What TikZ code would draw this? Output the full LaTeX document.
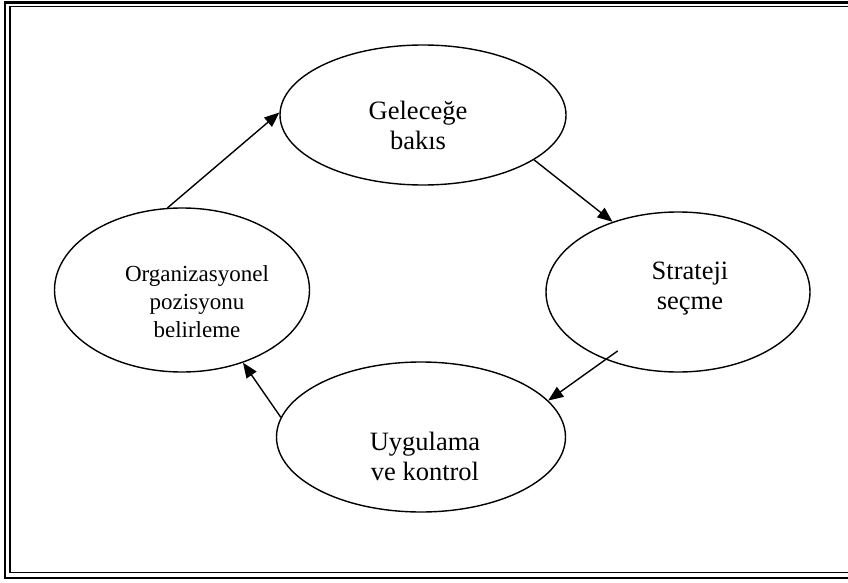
\documentclass[tikz,border=0pt]{standalone}
\usepackage{fontspec}
\setmainfont{Liberation Serif}
\usetikzlibrary{positioning}
\usetikzlibrary{arrows.meta}
\usetikzlibrary{shapes.geometric}

\begin{document}
\begin{tikzpicture}[x=1pt, y=-1pt,
    phase/.style={draw, ellipse, line width=1.4pt, inner sep=0pt},
    phasetext/.style={align=center, font=\fontsize{26.5}{30}\selectfont},
    flow/.style={line width=1.4pt, -{Triangle[length=15pt, width=12pt]}}]
    \useasboundingbox (0,0) rectangle (848,583);

    % Double frame
    \draw[line width=2.2pt] (848,2.5) -- (5,2.5) -- (5,578) -- (848,578);
    \draw[line width=1.5pt] (848,6.5) -- (10,6.5) -- (10,572.5) -- (848,572.5);

    % Phases
    \node (look) [phase, minimum width=286pt, minimum height=140pt] at (423,115) {};
    \node (choose) [phase, minimum width=264pt, minimum height=160pt] at (678,292) {};
    \node (apply) [phase, minimum width=289pt, minimum height=150pt] at (421,437) {};
    \node (org) [phase, minimum width=255pt, minimum height=164pt] at (182,290) {};

    % Texts
    \node (lookText) [phasetext] at (418,125) {Geleceğe\\bakıs};
    \node (chooseText) [phasetext] at (690,289) {Strateji\\seçme};
    \node (applyText) [phasetext] at (425,456) {Uygulama\\ve kontrol};
    \node (orgText) [align=center, font=\fontsize{23}{28}\selectfont] at (197,302) {Organizasyonel\\pozisyonu\\belirleme};

    % Cycle
    \draw[flow] (org.100) -- (look.179);
    \draw[flow] (look.338) -- (choose.133);
    \draw[flow, shorten <=-15pt] (choose.223) -- (apply.16);
    \draw[flow] (apply.172) -- (org.310);
\end{tikzpicture}
\end{document}
